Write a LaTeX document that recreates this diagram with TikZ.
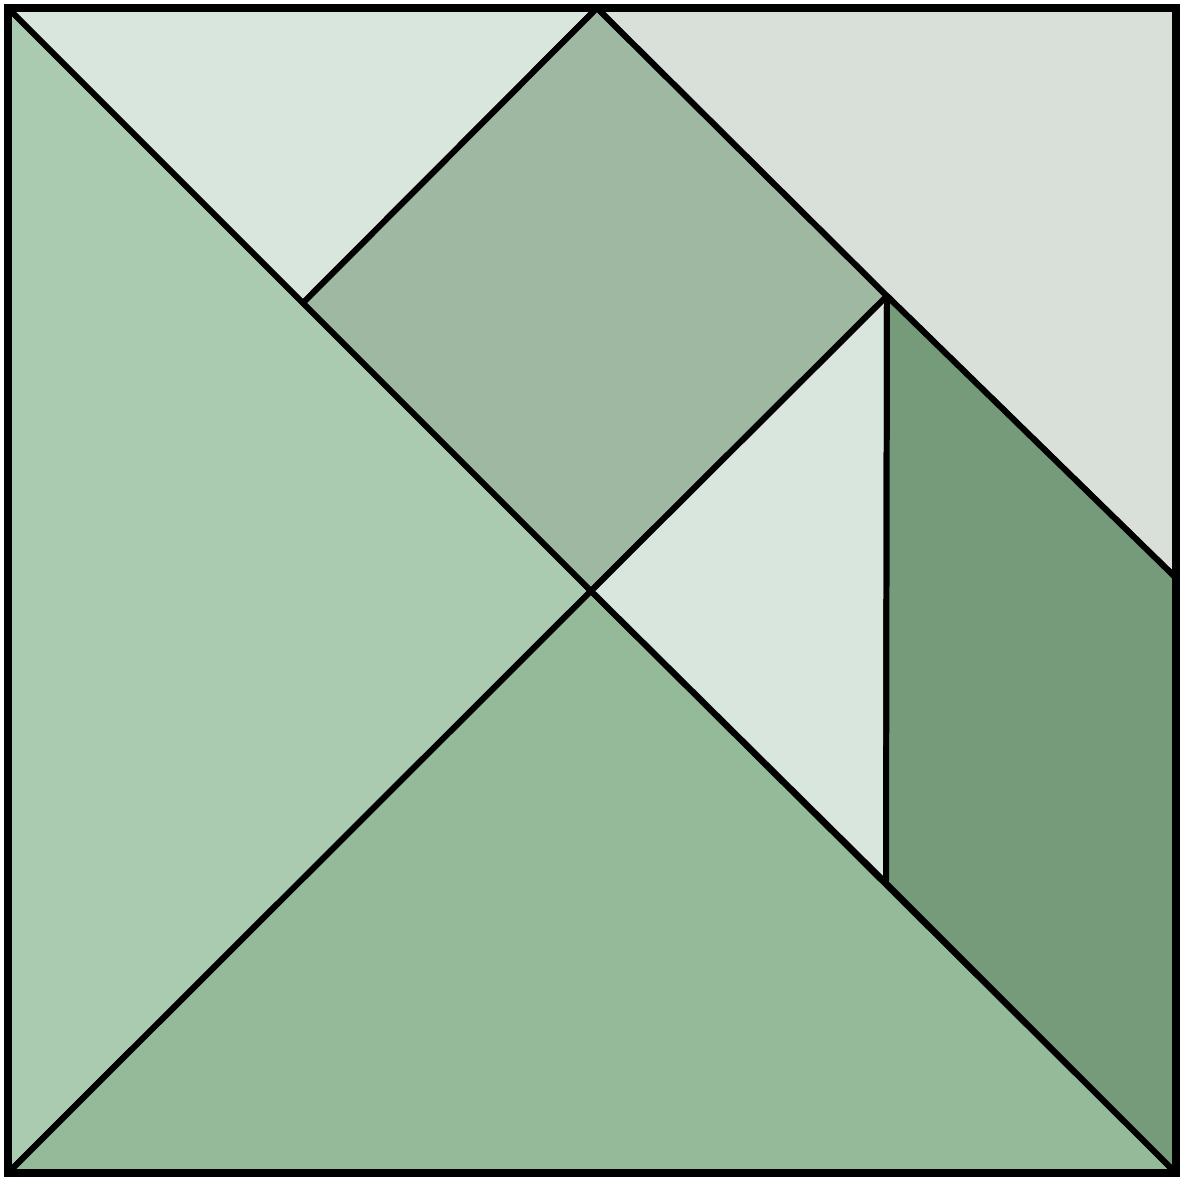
\documentclass[tikz,border=0pt]{standalone}
\usetikzlibrary{calc}
\definecolor{cpale}{HTML}{D8E6DD}
\definecolor{cgreyish}{HTML}{D9E0D9}
\definecolor{csquare}{HTML}{9EB8A2}
\definecolor{cleft}{HTML}{AACBB0}
\definecolor{cbottom}{HTML}{95BA9A}
\definecolor{cpara}{HTML}{769B7B}
\tikzset{
  piece/.style={fill=#1, draw=black, line width=1.7pt, line join=round},
  piece/.default=cpale,
  frame/.style={draw=black, line width=2.4pt},
}

\begin{document}
\begin{tikzpicture}[x=0.01cm, y=-0.01cm]
  \useasboundingbox (0,0) rectangle (1181,1178);
  % corners and cut points
  \coordinate (tl) at (8,8);
  \coordinate (tr) at (1176,8);
  \coordinate (br) at (1176,1173);
  \coordinate (bl) at (8,1173);
  \coordinate (top) at (597,8);
  \coordinate (mid) at (591,591);
  \coordinate (lft) at (303,303);
  \coordinate (knee) at (887,296);
  \coordinate (foot) at (886,883);
  \coordinate (rgt) at (1176,578);
  % pieces
  \draw[piece=cleft] (tl) -- (mid) -- (bl) -- cycle;
  \draw[piece=cbottom] (bl) -- (mid) -- (br) -- cycle;
  \draw[piece=cpale] (tl) -- (top) -- (lft) -- cycle;
  \draw[piece=csquare] (top) -- (knee) -- (mid) -- (lft) -- cycle;
  \draw[piece=cgreyish] (top) -- (tr) -- (rgt) -- (knee) -- cycle;
  \draw[piece=cpale] (knee) -- (mid) -- (foot) -- cycle;
  \draw[piece=cpara] (knee) -- (rgt) -- (br) -- (foot) -- cycle;
  % outer frame
  \draw[frame] (tl) rectangle (br);
\end{tikzpicture}
\end{document}
